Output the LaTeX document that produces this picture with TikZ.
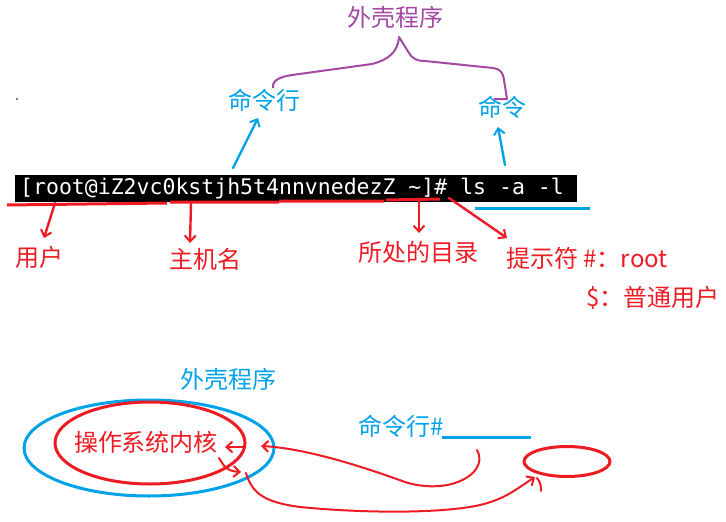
\documentclass[tikz,border=0pt]{standalone}
\usepackage{fontspec}
\newfontfamily\cjk{Noto Sans CJK SC}
\newfontfamily\mono{DejaVu Sans Mono}
\usetikzlibrary{arrows.meta,shapes.geometric}
\definecolor{pur}{RGB}{163,73,164}
\definecolor{blu}{RGB}{0,162,232}
\definecolor{rd}{RGB}{237,28,36}
\tikzset{
  lbl/.style={inner sep=0pt,font=\cjk\fontsize{24}{26}\selectfont},
  redlbl/.style={lbl,text=rd},
  blulbl/.style={lbl,text=blu},
  pen/.style={line width=2.4pt,line cap=round,line join=round},
  barb/.style={-{Straight Barb[length=6pt,width=11pt,line width=2pt]}},
  ring/.style={ellipse,line width=3pt,inner sep=0pt},
}
\begin{document}
\begin{tikzpicture}[x=1pt,y=-1pt]
\useasboundingbox[fill=white] (0,0) rectangle (726,522);

% stray dot
\fill (17,99) circle (0.8pt);

% ---------- top part ----------
\node[lbl,text=pur] (shell) at (395,17) {外壳程序};
\node[blulbl] (cmdline) at (264,100) {命令行};
\node[blulbl] (cmd) at (502,107) {命令};

% purple brace
\coordinate (bl) at (273,88);
\coordinate (bp) at (399,37);
\coordinate (br) at (494,99);
\draw[pur,line width=2pt,line join=round]
  (bl) .. controls (272,80) and (280,77) .. (292,75) -- (372,64)
  .. controls (388,60) and (398,52) .. (bp)
  -- (409,53) .. controls (412,58) and (416,61) .. (425,61)
  -- (493,68) .. controls (500,69) and (503,72) .. (504,80)
  -- (507,99) -- (br);

% terminal bar
\node[fill=black,minimum width=562pt,minimum height=27pt,inner sep=0pt] (bar) at (296,188.5) {};
\node[inner sep=0pt,text=white,anchor=west,font=\mono\fontsize{21.5}{24}\selectfont]
  (prompt) at (20,189) {[root@iZ2vc0kstjh5t4nnvnedezZ \textasciitilde]\# ls -a -l};

% blue arrows
\coordinate (ba1) at (233,168);
\coordinate (ba2) at (505,165);
\draw[blu,pen,barb] (ba1) -- (258,118);
\draw[blu,pen,barb] (ba2) -- (498,127);

% underlines
\draw[rd,line width=3pt] (7,205) -- (167,203) (170,202) -- (279,202) (279,201) -- (384,201) (386,200) -- (440,199);
\draw[blu,line width=3pt] (475,208) -- (590,208);

% red labels
\node[redlbl] (user) at (40,257) {用户};
\node[redlbl] (host) at (205,259) {主机名};
\node[redlbl] (dir) at (418,252) {所处的目录};
\node[redlbl] (tip) at (587,258) {提示符 \#：root};
\node[redlbl] (norm) at (653,298) {\$：普通用户};

\coordinate (u0) at (55,203);
\coordinate (h0) at (191,203);
\coordinate (d0) at (419,201);
\coordinate (t0) at (449,198);
\draw[rd,pen,barb] (u0) -- (44,238);
\draw[rd,pen,barb] (h0) -- (190,243);
\draw[rd,pen,barb] (d0) -- (419,233);
\draw[rd,pen,barb] (t0) -- (507,238);

% ---------- bottom part ----------
\node[blulbl] (shell2) at (228,379) {外壳程序};
\node[ring,draw=blu,minimum width=250pt,minimum height=96pt] (shellring) at (149,448) {};
\node[ring,draw=rd,minimum width=190pt,minimum height=82pt] (kernelring) at (150,443) {};
\node[redlbl] (kernel) at (146,442) {操作系统内核};

\node[blulbl,anchor=east] (cl) at (444,426) {命令行\#};
\coordinate (clu) at (442,437);
\draw[blu,line width=3pt] (clu) -- (531,437);

\node[ring,draw=rd,minimum width=86pt,minimum height=30pt] (small) at (567,461.5) {};
\coordinate (smallin) at (535,477);

% curve from command line back to kernel
\coordinate (c1) at (477,450);
\coordinate (kin) at (261,446);
\draw[rd,pen,line width=2pt,barb]
  (c1) .. controls (484,462) and (476,476) .. (455,483)
  .. controls (440,488) and (420,487) .. (405,482)
  .. controls (350,462) and (300,448) .. (kin);
\draw[rd,pen,line width=2pt,barb] (243,447) -- (225,447);

% kernel output
\draw[rd,pen,line width=2pt,barb] (219,458) .. controls (224,466) and (226,471) .. (241,472);
\coordinate (c2) at (246,473);
\draw[rd,pen,line width=2pt,barb]
  (c2) .. controls (252,492) and (262,502) .. (300,507)
  .. controls (360,513) and (440,514) .. (480,505)
  .. controls (505,499) and (515,490) .. (smallin);
\draw[rd,pen,line width=2pt] (537,478) .. controls (541,483) and (541,487) .. (541,491);
\end{tikzpicture}
\end{document}
